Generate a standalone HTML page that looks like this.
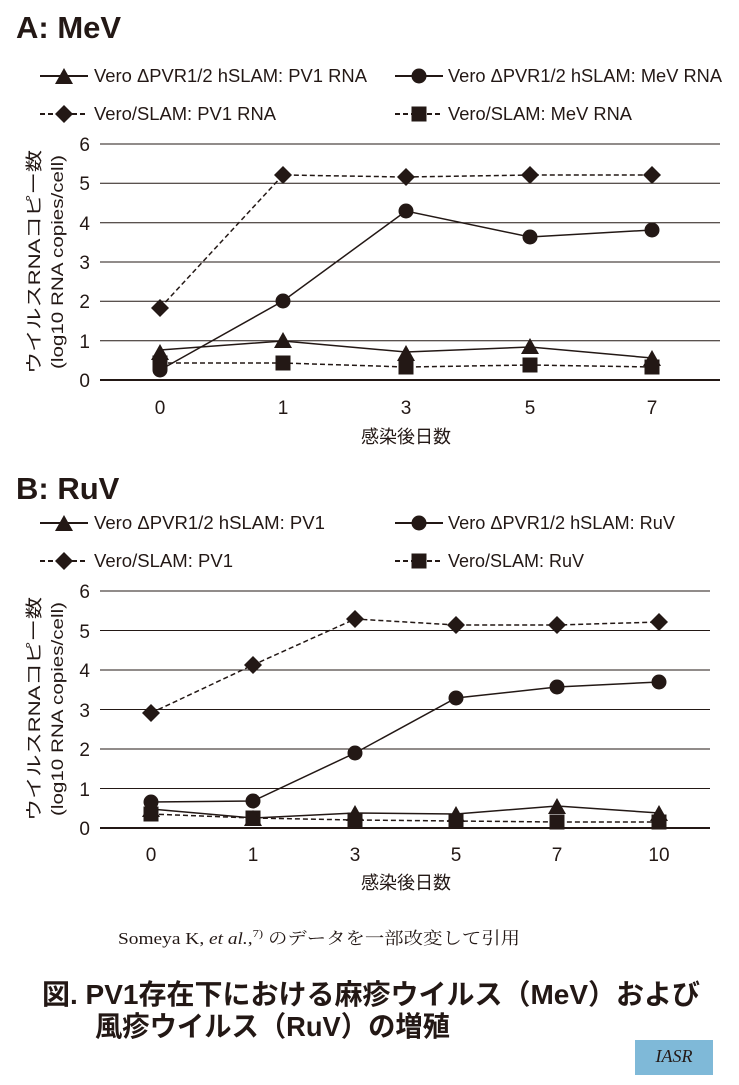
<!DOCTYPE html><html><head><meta charset="utf-8"><style>body{margin:0;background:#fff}svg text{font-family:"Liberation Sans","Noto Sans CJK JP",sans-serif;fill:#231815}</style></head><body>
<svg width="739" height="1080" viewBox="0 0 739 1080" xmlns="http://www.w3.org/2000/svg">
<defs>
<path id="tri" d="M0,-9 L9,7 L-9,7Z" fill="#231815"/>
<circle id="cir" r="7.5" fill="#231815"/>
<path id="dia" d="M0,-9 L9,0 L0,9 L-9,0Z" fill="#231815"/>
<rect id="sq" x="-7.5" y="-7.5" width="15" height="15" fill="#231815"/>
</defs>
<text x="16" y="38" font-size="31" font-weight="bold">A: MeV</text>
<text x="16" y="499" font-size="31" font-weight="bold">B: RuV</text>
<g font-size="18">
<line x1="40" y1="76" x2="88" y2="76" stroke="#231815" stroke-width="2"/><use href="#tri" x="64" y="77"/><text x="94" y="82" textLength="273" lengthAdjust="spacingAndGlyphs">Vero ΔPVR1/2 hSLAM: PV1 RNA</text>
<line x1="395" y1="76" x2="443" y2="76" stroke="#231815" stroke-width="2"/><use href="#cir" x="419" y="76"/><text x="448" y="82" textLength="274" lengthAdjust="spacingAndGlyphs">Vero ΔPVR1/2 hSLAM: MeV RNA</text>
<line x1="40" y1="114" x2="88" y2="114" stroke="#231815" stroke-width="2" stroke-dasharray="5,3"/><use href="#dia" x="64" y="114"/><text x="94" y="120" textLength="182" lengthAdjust="spacingAndGlyphs">Vero/SLAM: PV1 RNA</text>
<line x1="395" y1="114" x2="443" y2="114" stroke="#231815" stroke-width="2" stroke-dasharray="5,3"/><use href="#sq" x="419" y="114"/><text x="448" y="120" textLength="184" lengthAdjust="spacingAndGlyphs">Vero/SLAM: MeV RNA</text>
<line x1="40" y1="523" x2="88" y2="523" stroke="#231815" stroke-width="2"/><use href="#tri" x="64" y="524"/><text x="94" y="529" textLength="231" lengthAdjust="spacingAndGlyphs">Vero ΔPVR1/2 hSLAM: PV1</text>
<line x1="395" y1="523" x2="443" y2="523" stroke="#231815" stroke-width="2"/><use href="#cir" x="419" y="523"/><text x="448" y="529" textLength="227" lengthAdjust="spacingAndGlyphs">Vero ΔPVR1/2 hSLAM: RuV</text>
<line x1="40" y1="561" x2="88" y2="561" stroke="#231815" stroke-width="2" stroke-dasharray="5,3"/><use href="#dia" x="64" y="561"/><text x="94" y="567" textLength="139" lengthAdjust="spacingAndGlyphs">Vero/SLAM: PV1</text>
<line x1="395" y1="561" x2="443" y2="561" stroke="#231815" stroke-width="2" stroke-dasharray="5,3"/><use href="#sq" x="419" y="561"/><text x="448" y="567" textLength="136" lengthAdjust="spacingAndGlyphs">Vero/SLAM: RuV</text>
</g>
<!-- Chart A -->
<g stroke="#231815" stroke-width="1">
<line x1="100" y1="144" x2="720" y2="144"/><line x1="100" y1="183.3" x2="720" y2="183.3"/><line x1="100" y1="222.7" x2="720" y2="222.7"/><line x1="100" y1="262" x2="720" y2="262"/><line x1="100" y1="301.3" x2="720" y2="301.3"/><line x1="100" y1="340.7" x2="720" y2="340.7"/><line x1="100" y1="380" x2="720" y2="380" stroke-width="2"/>
</g>
<g font-size="19" text-anchor="end"><text x="90" y="151">6</text><text x="90" y="190">5</text><text x="90" y="230">4</text><text x="90" y="269">3</text><text x="90" y="308">2</text><text x="90" y="348">1</text><text x="90" y="387">0</text></g>
<g font-size="19" text-anchor="middle"><text x="160" y="414">0</text><text x="283" y="414">1</text><text x="406" y="414">3</text><text x="530" y="414">5</text><text x="652" y="414">7</text><text x="406" y="443" font-size="18">感染後日数</text></g>
<text transform="translate(40,262) rotate(-90)" font-size="17" text-anchor="middle" textLength="224" lengthAdjust="spacingAndGlyphs">ウイルスRNAコピー数</text>
<text transform="translate(63,262) rotate(-90)" font-size="17" text-anchor="middle" textLength="214" lengthAdjust="spacingAndGlyphs">(log10 RNA copies/cell)</text>
<g fill="none" stroke="#231815" stroke-width="1.5">
<polyline points="160,308 283,175 406,177 530,175 652,175" stroke-dasharray="5,3"/>
<polyline points="160,363 283,363 406,367 530,365 652,367" stroke-dasharray="5,3"/>
<polyline points="160,370 283,301 406,211 530,237 652,230"/>
<polyline points="160,350 283,341 406,352 530,347 652,358"/>
</g>
<g><use href="#dia" x="160" y="308"/><use href="#dia" x="283" y="175"/><use href="#dia" x="406" y="177"/><use href="#dia" x="530" y="175"/><use href="#dia" x="652" y="175"/>
<use href="#sq" x="160" y="363"/><use href="#sq" x="283" y="363"/><use href="#sq" x="406" y="367"/><use href="#sq" x="530" y="365"/><use href="#sq" x="652" y="367"/>
<use href="#cir" x="160" y="370"/><use href="#cir" x="283" y="301"/><use href="#cir" x="406" y="211"/><use href="#cir" x="530" y="237"/><use href="#cir" x="652" y="230"/>
<use href="#tri" x="160" y="353"/><use href="#tri" x="283" y="341"/><use href="#tri" x="406" y="354"/><use href="#tri" x="530" y="347"/><use href="#tri" x="652" y="359"/></g>
<!-- Chart B -->
<g stroke="#231815" stroke-width="1">
<line x1="100" y1="591" x2="710" y2="591"/><line x1="100" y1="630.5" x2="710" y2="630.5"/><line x1="100" y1="670" x2="710" y2="670"/><line x1="100" y1="709.5" x2="710" y2="709.5"/><line x1="100" y1="749" x2="710" y2="749"/><line x1="100" y1="788.5" x2="710" y2="788.5"/><line x1="100" y1="828" x2="710" y2="828" stroke-width="2"/>
</g>
<g font-size="19" text-anchor="end"><text x="90" y="598">6</text><text x="90" y="638">5</text><text x="90" y="677">4</text><text x="90" y="717">3</text><text x="90" y="756">2</text><text x="90" y="796">1</text><text x="90" y="835">0</text></g>
<g font-size="19" text-anchor="middle"><text x="151" y="861">0</text><text x="253" y="861">1</text><text x="355" y="861">3</text><text x="456" y="861">5</text><text x="557" y="861">7</text><text x="659" y="861">10</text><text x="406" y="889" font-size="18">感染後日数</text></g>
<text transform="translate(40,709) rotate(-90)" font-size="17" text-anchor="middle" textLength="224" lengthAdjust="spacingAndGlyphs">ウイルスRNAコピー数</text>
<text transform="translate(63,709) rotate(-90)" font-size="17" text-anchor="middle" textLength="214" lengthAdjust="spacingAndGlyphs">(log10 RNA copies/cell)</text>
<g fill="none" stroke="#231815" stroke-width="1.5">
<polyline points="151,713 253,665 355,619 456,625 557,625 659,622" stroke-dasharray="5,3"/>
<polyline points="151,814 253,818 355,820 456,821 557,822 659,822" stroke-dasharray="5,3"/>
<polyline points="151,802 253,801 355,753 456,698 557,687 659,682"/>
<polyline points="151,809 253,818 355,813 456,814 557,806 659,813"/>
</g>
<g><use href="#dia" x="151" y="713"/><use href="#dia" x="253" y="665"/><use href="#dia" x="355" y="619"/><use href="#dia" x="456" y="625"/><use href="#dia" x="557" y="625"/><use href="#dia" x="659" y="622"/>
<use href="#sq" x="151" y="814"/><use href="#sq" x="253" y="818"/><use href="#sq" x="355" y="820"/><use href="#sq" x="456" y="821"/><use href="#sq" x="557" y="822"/><use href="#sq" x="659" y="822"/>
<use href="#cir" x="151" y="802"/><use href="#cir" x="253" y="801"/><use href="#cir" x="355" y="753"/><use href="#cir" x="456" y="698"/><use href="#cir" x="557" y="687"/><use href="#cir" x="659" y="682"/>
<use href="#tri" x="151" y="810"/><use href="#tri" x="253" y="819"/><use href="#tri" x="355" y="814"/><use href="#tri" x="456" y="815"/><use href="#tri" x="557" y="807"/><use href="#tri" x="659" y="814"/></g>
<text x="118" y="944" font-size="17" textLength="402" lengthAdjust="spacingAndGlyphs" style="font-family:'Liberation Serif','Noto Serif CJK SC',serif">Someya K, <tspan font-style="italic">et al.</tspan>,<tspan font-size="11" dy="-7">7)</tspan><tspan dy="7"> のデータを一部改変して引用</tspan></text>
<text x="42" y="1004" font-size="28" font-weight="bold" textLength="658" lengthAdjust="spacingAndGlyphs">図.  PV1存在下における麻疹ウイルス（MeV）および</text>
<text x="95" y="1036" font-size="28" font-weight="bold" textLength="355" lengthAdjust="spacingAndGlyphs">風疹ウイルス（RuV）の増殖</text>
<rect x="635" y="1040" width="78" height="35" fill="#7fb9d8"/>
<text x="674" y="1062" font-size="18" font-style="italic" text-anchor="middle" style="font-family:'Liberation Serif',serif" fill="#1a3a6e">IASR</text>
</svg>
</body></html>
